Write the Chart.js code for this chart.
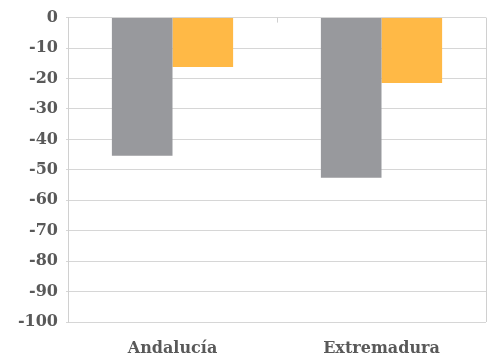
<!DOCTYPE html>
<html>
<head>
<meta charset="utf-8">
<script src="https://cdn.jsdelivr.net/npm/chart.js@4"></script>
<style>
html,body{margin:0;padding:0;background:#fff;}
#wrap{width:494px;height:360px;}
</style>
</head>
<body>
<div id="wrap"><canvas id="c" width="494" height="360"></canvas></div>
<script>
const categories = ["Andalucía", "Extremadura"];
const seriesGray = [-45.4, -52.6];
const seriesOrange = [-16.2, -21.5];
const yMin = -100, yMax = 0, yStep = 10;

const midTick = {
  id: 'midTick',
  afterDatasetsDraw(chart) {
    const x = chart.scales.x, y = chart.scales.y;
    const ctx = chart.ctx;
    const px = (x.getPixelForValue(0) + x.getPixelForValue(1)) / 2;
    const py = y.getPixelForValue(0);
    ctx.save();
    ctx.strokeStyle = '#d0d0d0';
    ctx.lineWidth = 1;
    ctx.beginPath();
    ctx.moveTo(Math.round(px) + 0.5, py);
    ctx.lineTo(Math.round(px) + 0.5, py + 5);
    ctx.stroke();
    ctx.restore();
  }
};

const tickFont = { family: 'DejaVu Serif', size: 16, weight: 'bold' };

new Chart(document.getElementById('c'), {
  type: 'bar',
  data: {
    labels: categories,
    datasets: [
      { data: seriesGray, backgroundColor: '#98999d', borderWidth: 0 },
      { data: seriesOrange, backgroundColor: '#ffb946', borderWidth: 0 }
    ]
  },
  options: {
    responsive: false,
    animation: false,
    devicePixelRatio: 1,
    layout: { padding: { top: 15, right: 8, left: 0, bottom: 0 } },
    plugins: { legend: { display: false }, tooltip: { enabled: false } },
    datasets: { bar: { categoryPercentage: 0.58, barPercentage: 1.0 } },
    scales: {
      x: {
        grid: {
          offset: true,
          drawTicks: false,
          color: (c) => c.index === 1 ? 'rgba(0,0,0,0)' : '#d0d0d0',
          lineWidth: 1
        },
        border: { display: false },
        ticks: {
          color: '#595959',
          font: tickFont,
          padding: 17
        },
        afterFit: (s) => { s.height = 38; }
      },
      y: {
        min: yMin, max: yMax,
        ticks: {
          stepSize: yStep,
          color: '#595959',
          font: tickFont,
          padding: 8
        },
        grid: { color: '#d6d6d6', drawTicks: true, tickLength: 2, lineWidth: 1 },
        border: { display: true, color: '#d0d0d0' },
        afterFit: (s) => { s.width = 68; }
      }
    }
  },
  plugins: [midTick]
});
</script>
</body>
</html>
